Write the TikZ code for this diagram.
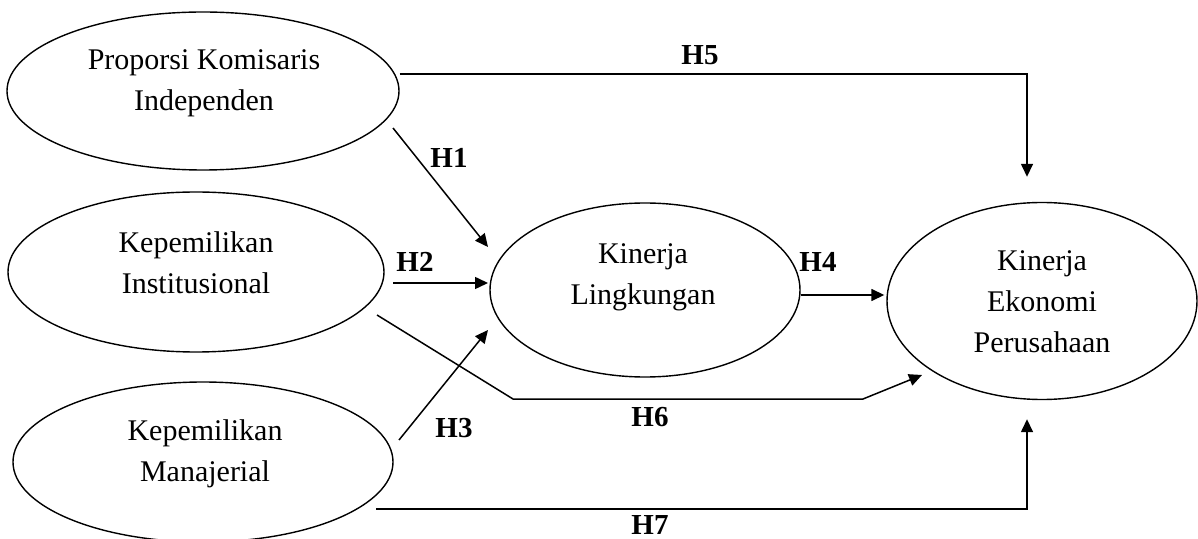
\documentclass[tikz,border=0pt]{standalone}
\usepackage{fontspec}
\setmainfont{Liberation Serif}
\usetikzlibrary{arrows.meta,calc,shapes.geometric}
\begin{document}
\begin{tikzpicture}[x=0.5pt,y=-0.5pt,
  ell/.style={draw, ellipse, line width=0.7pt, inner sep=0pt},
  txt/.style={align=center, font=\fontsize{15}{20.5}\selectfont, inner sep=0pt},
  hyp/.style={font=\bfseries\fontsize{14.5}{16}\selectfont, inner sep=0pt},
  arr/.style={line width=0.75pt, -{Triangle[length=6.5pt,width=6pt]}}]
\useasboundingbox (0,0) rectangle (1198,539);
% ellipses
\node[ell, minimum width=196pt, minimum height=79pt] (e1) at (203,91) {};
\node[ell, minimum width=188pt, minimum height=80pt] (e2) at (196,272) {};
\node[ell, minimum width=190pt, minimum height=80pt] (e3) at (203,462) {};
\node[ell, minimum width=155pt, minimum height=87pt] (e4) at (645,290) {};
\node[ell, minimum width=155pt, minimum height=98.5pt] (e5) at (1042,301) {};
% texts
\node[txt] (t1) at (204,83) {Proporsi Komisaris\\Independen};
\node[txt] (t2) at (196,263) {Kepemilikan\\Institusional};
\node[txt] (t3) at (205,454) {Kepemilikan\\Manajerial};
\node[txt] (t4) at (643,277) {Kinerja\\Lingkungan};
\node[txt] (t5) at (1042,302) {Kinerja\\Ekonomi\\Perusahaan};
% bend points
\coordinate (b6a) at (513,399);
\coordinate (b6b) at (863,399);
% connectors
\draw[arr] ($(e1.east)+(0,-17)$) -| ($(e5.north)+(-15,-25)$);
\draw[arr] ($(e1.center)+(190,37)$) -- ($(e4.center)+(-157,-43)$);
\draw[arr] ($(e2.center)+(197,11)$) -- ($(e4.center)+(-157,-7)$);
\draw[arr] ($(e3.center)+(196,-22)$) -- ($(e4.center)+(-157,40)$);
\draw[arr] ($(e4.east)+(0,5)$) -- ($(e5.west)+(-2,-6)$);
\draw[arr] ($(e2.center)+(181,43)$) -- (b6a) -- (b6b) -- ($(e5.center)+(-120,74)$);
\draw[arr] ($(e3.center)+(173,47)$) -| ($(e5.south)+(-15,19)$);
% labels
\node[hyp] (h5) at (700,55) {H5};
\node[hyp] (h1) at (449,158) {H1};
\node[hyp] (h2) at (415,262) {H2};
\node[hyp] (h3) at (454,428) {H3};
\node[hyp] (h4) at (818,262) {H4};
\node[hyp] (h6) at (650,417) {H6};
\node[hyp] (h7) at (650,525) {H7};
\end{tikzpicture}
\end{document}
